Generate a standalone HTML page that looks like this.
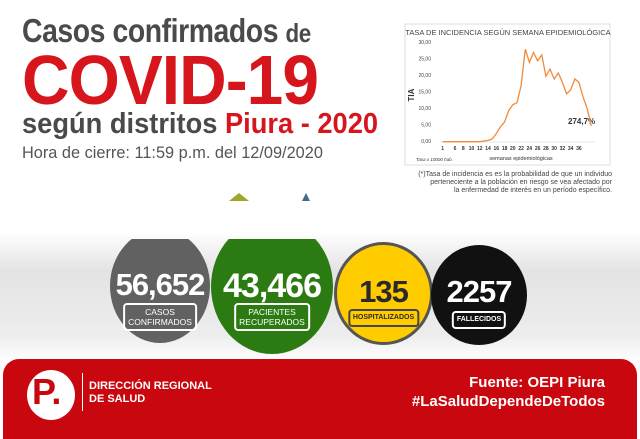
<!DOCTYPE html><html><head><meta charset="utf-8"><style>
body{margin:0;width:640px;height:426px;overflow:hidden;background:#fff;font-family:"Liberation Sans",sans-serif;position:relative}
.a{position:absolute}
.c{position:absolute;border-radius:50%;text-align:center}
.n{position:absolute;width:100%;font-weight:bold;font-size:31px;letter-spacing:-1px}
.lb{position:absolute;left:50%;transform:translateX(-50%);border:2px solid #fff;border-radius:4px;font-size:9px;line-height:10px;padding:2px 3px;white-space:nowrap;color:#fff}
.sx{transform-origin:0 0;white-space:nowrap}
</style></head><body>
<div class="a" style="left:0;top:232px;width:640px;height:130px;background:linear-gradient(#fff,#e3e3e3 30%,#ededed 80%,#fff)"></div>
<div class="a sx" style="left:22px;top:12px;font-weight:bold;font-size:33px;color:#4a4a4a;letter-spacing:-0.5px;transform:scaleX(0.86)">Casos confirmados <span style="font-size:26px">de</span></div>
<div class="a sx" style="left:22px;top:44px;font-weight:bold;font-size:70px;color:#d7151c;letter-spacing:-1px;line-height:72px;transform:scaleX(0.94)">COVID-19</div>
<div class="a sx" style="left:22px;top:108px;font-weight:bold;font-size:29px;color:#4a4a4a;transform:scaleX(0.94)">según distritos <span style="color:#d7151c">Piura - 2020</span></div>
<div class="a sx" style="left:22px;top:143px;font-size:17px;color:#555;transform:scaleX(0.96)">Hora de cierre: 11:59 p.m. del 12/09/2020</div>
<div class="a" style="left:229px;top:193px;width:0;height:0;border-left:10px solid transparent;border-right:10px solid transparent;border-bottom:8px solid #9fa629"></div>
<div class="a" style="left:302px;top:193px;width:0;height:0;border-left:4px solid transparent;border-right:4px solid transparent;border-bottom:8px solid #3c6e8f"></div>
<svg class="a" style="left:0;top:0" width="640" height="200">
<rect x="405" y="24" width="205" height="141" fill="#fff" stroke="#ddd"/>
<text x="508" y="35" font-size="7.5" fill="#444" text-anchor="middle" font-family="Liberation Sans">TASA DE INCIDENCIA SEGÚN SEMANA EPIDEMIOLÓGICA</text>
<g font-size="5" fill="#444" text-anchor="end" font-family="Liberation Sans">
<text x="431" y="44">30,00</text><text x="431" y="60.5">25,00</text><text x="431" y="77">20,00</text><text x="431" y="93.5">15,00</text><text x="431" y="110">10,00</text><text x="431" y="126.5">5,00</text><text x="431" y="143">0,00</text></g>
<text x="414" y="95" font-size="8" font-weight="bold" fill="#333" transform="rotate(-90 414 95)" text-anchor="middle" font-family="Liberation Sans">TIA</text>
<line x1="440" y1="142" x2="595" y2="142" stroke="#ccc" stroke-width="0.6"/>
<g font-size="5" fill="#333" text-anchor="middle" font-family="Liberation Sans" font-weight="bold">
<text x="442.7" y="150">1</text><text x="455" y="150">6</text><text x="463.3" y="150">8</text><text x="471.5" y="150">10</text><text x="479.8" y="150">12</text><text x="488" y="150">14</text><text x="496.3" y="150">16</text><text x="504.6" y="150">18</text><text x="512.8" y="150">20</text><text x="521.1" y="150">22</text><text x="529.3" y="150">24</text><text x="537.6" y="150">26</text><text x="545.9" y="150">28</text><text x="554.1" y="150">30</text><text x="562.4" y="150">32</text><text x="570.6" y="150">34</text><text x="578.9" y="150">36</text></g>
<text x="521" y="160" font-size="5.5" fill="#333" text-anchor="middle" font-family="Liberation Sans">semanas epidemiológicas</text>
<text x="416" y="161" font-size="4.5" fill="#333" font-style="italic" font-family="Liberation Sans">Tasa x 10000 hab.</text>
<text x="568" y="124" font-size="8" font-weight="bold" fill="#333" font-family="Liberation Sans">274,7%</text>
<polyline fill="none" stroke="#f08a3c" stroke-width="1.3" points="442.7,141.7 446.8,141.7 451,141.7 455.1,141.7 459.2,141.7 463.3,141.7 467.5,141.7 471.6,141.7 475.7,141.7 479.9,141.7 484,141 488.1,140.4 492.2,139 496.4,133.4 500.5,126.8 504.6,121.9 508.8,110.4 512.9,104.7 517,102.8 521.1,85.6 525.3,49.2 529.4,62.4 533.5,52.5 537.6,60.8 541.8,54.9 545.9,76.3 550,69.1 554.2,79 558.3,73 562.4,82.3 566.5,93.8 570.7,89.9 574.8,79 578.9,82.3 583.1,97.1 587.2,108.7 591.3,125.9"/>
<g font-size="7" fill="#444" text-anchor="end" font-family="Liberation Sans">
<text x="612" y="176">(*)Tasa de incidencia es es la probabilidad de que un individuo</text>
<text x="612" y="184">perteneciente a la población en riesgo se vea afectado por</text>
<text x="612" y="192">la enfermedad de interés en un período específico.</text></g>
</svg>
<div class="a" style="left:0;top:239px;width:640px;height:130px;overflow:hidden">
<div class="c" style="left:110px;top:-10px;width:100px;height:114px;background:#616161">
<div class="n" style="top:38px;color:#fff">56,652</div><div class="lb" style="top:74px;font-size:8.5px">CASOS<br>CONFIRMADOS</div></div>
<div class="c" style="left:211px;top:-20px;width:122px;height:135px;background:#2b7a12">
<div class="n" style="top:48px;color:#fff;font-size:34px">43,466</div><div class="lb" style="top:84px;font-size:8.5px">PACIENTES<br>RECUPERADOS</div></div>
<div class="c" style="left:334px;top:3px;width:93px;height:97px;background:#ffcc00;border:3px solid #555">
<div class="n" style="top:29px;color:#2a2a2a">135</div><div class="lb" style="top:64px;border-color:#444;color:#2a2a2a;font-size:7px;font-weight:bold">HOSPITALIZADOS</div></div>
<div class="c" style="left:431px;top:6px;width:96px;height:100px;background:#111">
<div class="n" style="top:29px;color:#fff">2257</div><div class="lb" style="top:66px;font-size:7px;font-weight:bold">FALLECIDOS</div></div>
</div>
<div class="a" style="left:3px;top:359px;width:634px;height:80px;background:#c8070f;border-radius:16px 16px 0 0"></div>
<div class="a" style="left:27px;top:370px;width:48px;height:50px;border-radius:50%;background:#fff"></div>
<div class="a" style="left:32px;top:371px;font-weight:bold;font-size:36px;color:#c8070f">P.</div>
<div class="a" style="left:82px;top:373px;width:1px;height:38px;background:#fff"></div>
<div class="a" style="left:89px;top:380px;font-weight:bold;font-size:11px;color:#fff;line-height:13px">DIRECCIÓN REGIONAL<br>DE SALUD</div>
<div class="a" style="right:35px;top:373px;font-weight:bold;font-size:15px;color:#fff;text-align:right;line-height:19px">Fuente: OEPI Piura<br>#LaSaludDependeDeTodos</div>
</body></html>
